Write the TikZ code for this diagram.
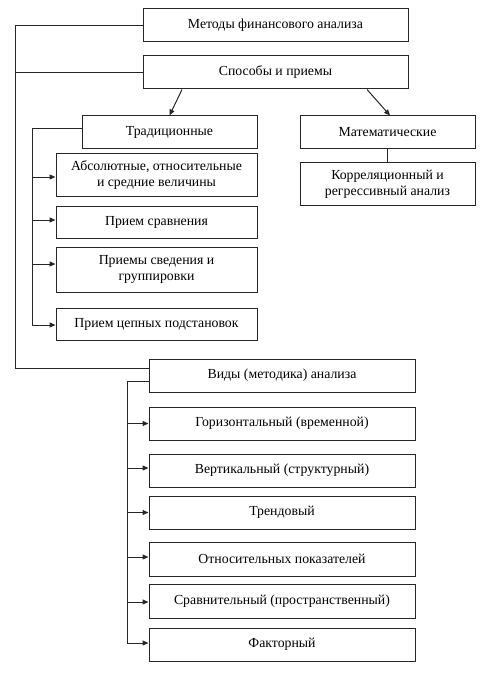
\documentclass[tikz,border=0pt]{standalone}
\usepackage{fontspec}
\setmainfont{Liberation Serif}
\usetikzlibrary{arrows.meta,calc}
\begin{document}
\begin{tikzpicture}[x=1pt,y=-1pt,
  box/.style={draw=black!85,line width=1pt,inner sep=0pt,align=center,
    font=\fontsize{13.8}{16.5}\selectfont},
  wbox/.style={box,minimum width=265pt,minimum height=33pt},
  tbox/.style={box,minimum width=175pt,minimum height=33pt},
  lbox/.style={box,minimum width=201pt},
  vbox/.style={box,minimum width=266pt},
  conn/.style={draw=black!85,line width=1pt},
  arr/.style={conn,-{Triangle[length=6pt,width=5pt]}}]
\useasboundingbox (0,0) rectangle (485,679);
\node[wbox] (m) at (275.5,25.5) {Методы финансового анализа};
\node[wbox] (s) at (275.5,72.5) {Способы и приемы};
\node[tbox] (t) at (169.5,132.5) {Традиционные};
\node[tbox] (mat) at (387.5,132.5) {Математические};
\node[lbox,minimum height=42pt] (a) at (156.5,175) {Абсолютные, относительные\\и средние величины};
\node[tbox,minimum height=42pt] (k) at (387.5,184) {Корреляционный и\\регрессивный анализ};
\node[lbox,minimum height=32pt] (c) at (156.5,222) {Прием сравнения};
\node[lbox,minimum height=45pt] (g) at (156.5,269.5) {Приемы сведения и\\группировки};
\node[lbox,minimum height=32pt] (p) at (156.5,324) {Прием цепных подстановок};
\node[vbox,minimum height=33pt] (v) at (282,375.5) {Виды (методика) анализа};
\node[vbox,minimum height=33pt] (v1) at (282,423.5) {Горизонтальный (временной)};
\node[vbox,minimum height=33pt] (v2) at (282,470.5) {Вертикальный (структурный)};
\node[vbox,minimum height=33pt] (v3) at (282,512.5) {Трендовый};
\node[vbox,minimum height=34pt] (v4) at (282,559) {Относительных показателей};
\node[vbox,minimum height=34pt] (v5) at (282,601) {Сравнительный (пространственный)};
\node[vbox,minimum height=33pt] (v6) at (282,644.5) {Факторный};
\coordinate (lx) at (15,0);
\coordinate (tx) at (32,0);
\coordinate (vx) at (127,0);
% outer spine
\draw[conn] (m.west) -- (m.west -| lx) |- ([yshift=7.5pt]v.west);
\draw[conn] (s.west) -- (s.west -| lx);
% from Sposoby
\draw[arr] ([xshift=-93.5pt]s.south) -- (t.north);
\draw[arr] ([xshift=91.5pt]s.south) -- ([xshift=2.5pt]mat.north);
\draw[conn] (mat.south) -- (k.north);
% traditional spine
\draw[conn] ([yshift=3.5pt]t.west) -- ([yshift=3.5pt]t.west -| tx) -- ([yshift=-1pt]p.west -| tx);
\draw[arr] ([yshift=-2pt]a.west -| tx) -- ([yshift=-2pt]a.west);
\draw[arr] ([yshift=2pt]c.west -| tx) -- ([yshift=2pt]c.west);
\draw[arr] ([yshift=5.5pt]g.west -| tx) -- ([yshift=5.5pt]g.west);
\draw[arr] ([yshift=-1pt]p.west -| tx) -- ([yshift=-1pt]p.west);
% vidy spine
\draw[conn] ([yshift=-5.5pt]v.west) -- ([yshift=-5.5pt]v.west -| vx) -- ([yshift=1.5pt]v6.west -| vx);
\draw[arr] (v1.west -| vx) -- (v1.west);
\draw[arr] ([yshift=2.5pt]v2.west -| vx) -- ([yshift=2.5pt]v2.west);
\draw[arr] (v3.west -| vx) -- (v3.west);
\draw[arr] ([yshift=2pt]v4.west -| vx) -- ([yshift=2pt]v4.west);
\draw[arr] ([yshift=-1pt]v5.west -| vx) -- ([yshift=-1pt]v5.west);
\draw[arr] ([yshift=1.5pt]v6.west -| vx) -- ([yshift=1.5pt]v6.west);
\end{tikzpicture}
\end{document}
